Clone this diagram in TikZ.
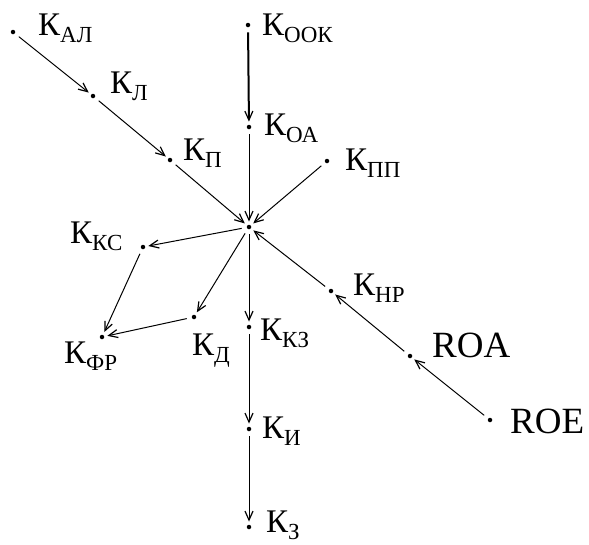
\documentclass[tikz,border=0pt]{standalone}
\usepackage{fontspec}
\setmainfont{Liberation Serif}
\usetikzlibrary{arrows.meta}
\newcommand{\klab}[1]{К\raisebox{-7pt}{\fontsize{23}{23}\selectfont #1}}
\tikzset{
  dot/.style={circle,fill=black,inner sep=0pt,minimum size=4.5pt},
  lbl/.style={anchor=base west,inner sep=0pt,font=\fontsize{33}{33}\selectfont},
  rlbl/.style={anchor=base west,inner sep=0pt,font=\fontsize{37}{37}\selectfont},
  arr/.style={line width=1pt,-{Straight Barb[length=9pt,width=8pt,line width=1.2pt]},shorten <=5pt,shorten >=3pt}
}
\begin{document}
\begin{tikzpicture}[x=1pt,y=-1pt]
\useasboundingbox[fill=white] (0,0) rectangle (589,544);
% dots
\node[dot] (kal) at (13,32) {};
\node[dot] (kl)  at (93,96) {};
\node[dot] (kp)  at (170,160) {};
\node[dot] (kook) at (248,25) {};
\node[dot] (koa) at (249,127) {};
\node[dot] (kpp) at (327,161) {};
\node[dot] (c)   at (249,227) {};
\node[dot] (kks) at (143,247) {};
\node[dot] (kfr) at (102,337) {};
\node[dot] (kd)  at (194,317) {};
\node[dot] (kkz) at (249,327) {};
\node[dot] (ki)  at (249,429) {};
\node[dot] (kz)  at (249,527) {};
\node[dot] (knr) at (331,291) {};
\node[dot] (roa) at (410,356) {};
\node[dot] (roe) at (490,420) {};
% labels
\node[lbl] (kalL) at (38,35) {\klab{АЛ}};
\node[lbl] (klL) at (110,93) {\klab{Л}};
\node[lbl] (kpL) at (183,160) {\klab{П}};
\node[lbl] (kookL) at (262,35) {\klab{ООК}};
\node[lbl] (koaL) at (264,135) {\klab{ОА}};
\node[lbl] (kppL) at (345,170) {\klab{ПП}};
\node[lbl] (kksL) at (70,243) {\klab{КС}};
\node[lbl] (kfrL) at (64,363) {\klab{ФР}};
\node[lbl] (kdL) at (192,355) {\klab{Д}};
\node[lbl] (kkzL) at (260,340) {\klab{КЗ}};
\node[lbl] (kiL) at (262,438) {\klab{И}};
\node[lbl] (kzL) at (266,532) {\klab{З}};
\node[lbl] (knrL) at (353,295) {\klab{НР}};
\node[rlbl] (roaL) at (432,357) {ROA};
\node[rlbl] (roeL) at (510,433) {ROE};
% connectors
\draw[arr] (kal) -- (kl);
\draw[arr] (kl) -- (kp);
\draw[arr] (kp) -- (c);
\draw[arr,line width=2pt] (kook) -- (koa);
\draw[arr] (koa) -- (c);
\draw[arr] (kpp) -- (c);
\draw[arr] (knr) -- (c);
\draw[arr] (roa) -- (knr);
\draw[arr] (roe) -- (roa);
\draw[arr] (c) -- (kks);
\draw[arr] (c) -- (kd);
\draw[arr] (c) -- (kkz);
\draw[arr] (kkz) -- (ki);
\draw[arr] (ki) -- (kz);
\draw[arr] (kks) -- (kfr);
\draw[arr] (kd) -- (kfr);
\end{tikzpicture}
\end{document}
